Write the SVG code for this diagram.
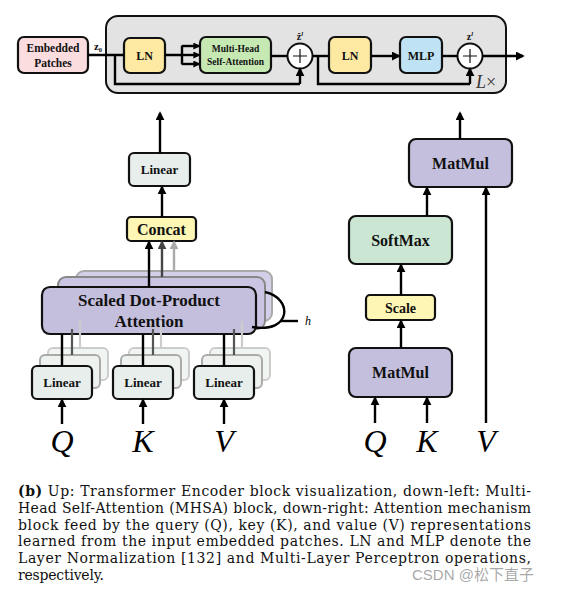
<svg xmlns="http://www.w3.org/2000/svg" width="562" height="592" viewBox="0 0 562 592">
<defs>
<marker id="ah" viewBox="0 0 10 10" refX="8" refY="5" markerWidth="9" markerHeight="9" markerUnits="userSpaceOnUse" orient="auto"><path d="M0,0 L10,5 L0,10 z" fill="#000"/></marker>
<marker id="ahs" viewBox="0 0 10 10" refX="8" refY="5" markerWidth="7" markerHeight="7" markerUnits="userSpaceOnUse" orient="auto"><path d="M0,0 L10,5 L0,10 z" fill="#000"/></marker>
<marker id="ahg" viewBox="0 0 10 10" refX="8" refY="5" markerWidth="9" markerHeight="9" markerUnits="userSpaceOnUse" orient="auto"><path d="M0,0 L10,5 L0,10 z" fill="#444"/></marker>
<marker id="ahl" viewBox="0 0 10 10" refX="8" refY="5" markerWidth="9" markerHeight="9" markerUnits="userSpaceOnUse" orient="auto"><path d="M0,0 L10,5 L0,10 z" fill="#aaa"/></marker>
</defs>
<style>
.b{font-family:"Liberation Serif","Times New Roman",serif;font-weight:bold;text-anchor:middle;fill:#111}
.m{font-family:"Liberation Serif","Times New Roman",serif;font-style:italic;text-anchor:middle;fill:#000}
.box{stroke:#111;stroke-width:2.2}
.ln{stroke:#000;stroke-width:2.4;fill:none}
.arr{stroke:#000;stroke-width:2.4;fill:none;marker-end:url(#ah)}
.cap{font-family:"DejaVu Serif","Liberation Serif",serif;font-size:14px;fill:#111}
</style>

<!-- Encoder block -->
<g id="encoder">
<rect x="106" y="16" width="400" height="77" rx="12" fill="#e3e3e3" stroke="#111" stroke-width="2"/>
<text x="476" y="88" font-family="Liberation Serif, serif" font-size="18" fill="#333"><tspan font-style="italic">L</tspan>×</text>
</g>
<g id="embedded">
<rect class="box" x="18" y="37" width="70" height="36" rx="6" fill="#fbdde0"/>
<text class="b" x="53" y="52" font-size="11.5">Embedded</text>
<text class="b" x="53" y="67" font-size="11.5">Patches</text>
</g>
<text class="b" x="98" y="50" font-size="11">z<tspan font-size="6.5" dy="2">0</tspan></text>
<g id="ln1">
<rect class="box" x="124" y="38" width="41" height="35" rx="6" fill="#fde9a2"/>
<text class="b" x="144.5" y="60" font-size="12">LN</text>
</g>
<g id="mhsa">
<rect class="box" x="200" y="37" width="71" height="36" rx="6" fill="#c6e8b3"/>
<text class="b" x="235.5" y="52" font-size="9.5">Multi-Head</text>
<text class="b" x="235.5" y="65" font-size="9.5">Self-Attention</text>
</g>
<g id="add1">
<circle cx="300" cy="56" r="12.5" fill="#fff" stroke="#111" stroke-width="2"/>
<path d="M293,56 H307 M300,49 V63" stroke="#111" stroke-width="1.2"/>
<text class="b" x="300" y="40" font-size="10">ẑ<tspan font-size="6.5" font-style="italic" dy="-4">l</tspan></text>
</g>
<g id="ln2">
<rect class="box" x="329" y="37" width="42" height="36" rx="6" fill="#fde9a2"/>
<text class="b" x="350" y="60" font-size="12">LN</text>
</g>
<g id="mlp">
<rect class="box" x="400" y="37" width="42" height="36" rx="6" fill="#bfe3f5"/>
<text class="b" x="421" y="60" font-size="12">MLP</text>
</g>
<g id="add2">
<circle cx="470" cy="56" r="12.5" fill="#fff" stroke="#111" stroke-width="2"/>
<path d="M463,56 H477 M470,49 V63" stroke="#111" stroke-width="1.2"/>
<text class="b" x="470" y="40" font-size="10">z<tspan font-size="6.5" font-style="italic" dy="-4">l</tspan></text>
</g>

<!-- MHSA block -->
<g id="linear-out">
<rect class="box" x="129" y="153" width="61" height="33" rx="5" fill="#e8eeeb"/>
<text class="b" x="159.5" y="174" font-size="13">Linear</text>
</g>
<g id="concat">
<rect class="box" x="127" y="217" width="69" height="24" rx="4" fill="#fdf6b4"/>
<text class="b" x="161.5" y="235" font-size="16">Concat</text>
</g>
<g id="sdpa">
<rect x="76" y="271" width="196" height="50" rx="8" fill="#d3cfe8" stroke="#aaa" stroke-width="2"/>
<rect x="58" y="277" width="207" height="52" rx="8" fill="#cbc5e3" stroke="#888" stroke-width="2"/>
<rect class="box" x="42" y="287" width="214" height="47" rx="8" fill="#c5bfde" stroke-width="2.5"/>
<text class="b" x="149" y="306" font-size="17">Scaled Dot-Product</text>
<text class="b" x="149" y="327" font-size="17">Attention</text>
<path d="M265,292 C293,298 292,334 252,327" class="ln"/>
<path d="M280,321 H298" class="ln" stroke-width="2"/>
<text x="305" y="325" font-family="Liberation Serif, serif" font-style="italic" font-size="12">h</text>
</g>
<g id="linear-q">
<rect x="48" y="348" width="60" height="32" rx="5" fill="#f1f5f2" stroke="#ccc" stroke-width="2"/>
<rect x="40" y="355" width="60" height="33" rx="5" fill="#edf2ee" stroke="#aaa" stroke-width="2"/>
<rect class="box" x="32" y="366" width="60" height="33" rx="5" fill="#e8eeeb"/>
<text class="b" x="62" y="387" font-size="13">Linear</text>
</g>
<g id="linear-k">
<rect x="129" y="348" width="60" height="32" rx="5" fill="#f1f5f2" stroke="#ccc" stroke-width="2"/>
<rect x="121" y="355" width="60" height="33" rx="5" fill="#edf2ee" stroke="#aaa" stroke-width="2"/>
<rect class="box" x="113" y="366" width="60" height="33" rx="5" fill="#e8eeeb"/>
<text class="b" x="143" y="387" font-size="13">Linear</text>
</g>
<g id="linear-v">
<rect x="210" y="348" width="60" height="32" rx="5" fill="#f1f5f2" stroke="#ccc" stroke-width="2"/>
<rect x="202" y="355" width="60" height="33" rx="5" fill="#edf2ee" stroke="#aaa" stroke-width="2"/>
<rect class="box" x="194" y="366" width="60" height="33" rx="5" fill="#e8eeeb"/>
<text class="b" x="224" y="387" font-size="13">Linear</text>
</g>
<g id="labels-left">
<text class="m" x="62" y="452" font-size="32">Q</text>
<text class="m" x="143" y="452" font-size="32">K</text>
<text class="m" x="224" y="452" font-size="32">V</text>
</g>

<!-- Attention block -->
<g id="matmul-top">
<rect class="box" x="409" y="139" width="103" height="48" rx="7" fill="#c5bfde" stroke-width="2.5"/>
<text class="b" x="460.5" y="169" font-size="16">MatMul</text>
</g>
<g id="softmax">
<rect class="box" x="349" y="216" width="103" height="48" rx="7" fill="#cbe7d4" stroke-width="2.5"/>
<text class="b" x="400.5" y="246" font-size="16">SoftMax</text>
</g>
<g id="scale">
<rect class="box" x="366" y="295" width="69" height="25" rx="4" fill="#fdf6b4"/>
<text class="b" x="400.5" y="313" font-size="14">Scale</text>
</g>
<g id="matmul-bottom">
<rect class="box" x="349" y="348" width="103" height="49" rx="7" fill="#c5bfde" stroke-width="2.5"/>
<text class="b" x="400.5" y="378" font-size="16">MatMul</text>
</g>
<g id="labels-right">
<text class="m" x="375" y="452" font-size="32">Q</text>
<text class="m" x="427" y="452" font-size="32">K</text>
<text class="m" x="486" y="452" font-size="32">V</text>
</g>

<g id="connectors">
<path class="ln" d="M88,55 H124"/>
<path class="ln" d="M115,55 V84 H300"/>
<path class="arr" d="M300,84 V69"/>
<path class="ln" d="M165,55 H182 M182,45.5 V64.5" stroke-width="1.8"/>
<path class="ln" d="M182,46 H199" stroke-width="1.6" marker-end="url(#ahs)"/>
<path class="ln" d="M182,55 H199" stroke-width="1.6" marker-end="url(#ahs)"/>
<path class="ln" d="M182,64 H199" stroke-width="1.6" marker-end="url(#ahs)"/>
<path class="ln" d="M271,56 H287.5"/>
<path class="ln" d="M312.5,56 H329"/>
<path class="ln" d="M318,56 V84 H470"/>
<path class="arr" d="M470,84 V69"/>
<path class="arr" d="M371,56 H399"/>
<path class="ln" d="M442,56 H457.5"/>
<path class="arr" d="M482.5,56 H523"/>

<path class="arr" d="M160,153 V113"/>
<path class="arr" d="M162,217 V187"/>
<path class="arr" d="M149,287 V242"/>
<path d="M162,277 V242" stroke="#444" stroke-width="2.4" marker-end="url(#ahg)"/>
<path d="M174,271 V242" stroke="#aaa" stroke-width="2.4" marker-end="url(#ahl)"/>

<path class="ln" d="M62,334 V366 M143,334 V366 M224,334 V366"/>
<path d="M72,329 V355 M153,329 V355 M234,329 V355" stroke="#555" stroke-width="2.2"/>
<path d="M80,321 V348 M161,321 V348 M242,321 V348" stroke="#ccc" stroke-width="2.2"/>
<path class="arr" d="M62,424 V400"/>
<path class="arr" d="M143,424 V400"/>
<path class="arr" d="M224,424 V400"/>

<path class="arr" d="M460,139 V113"/>
<path class="arr" d="M427,216 V188"/>
<path class="arr" d="M486,423 V188"/>
<path class="arr" d="M401,295 V265"/>
<path class="arr" d="M401,348 V321"/>
<path class="arr" d="M375,423 V398"/>
<path class="arr" d="M427,423 V398"/>
</g>

<!-- Caption -->
<g id="caption">
<text class="cap" x="18" y="496" textLength="513" lengthAdjust="spacing"><tspan font-weight="bold">(b)</tspan> Up: Transformer Encoder block visualization, down-left: Multi-</text>
<text class="cap" x="18" y="512.8" textLength="513" lengthAdjust="spacing">Head Self-Attention (MHSA) block, down-right: Attention mechanism</text>
<text class="cap" x="18" y="529.6" textLength="513" lengthAdjust="spacing">block feed by the query (Q), key (K), and value (V) representations</text>
<text class="cap" x="18" y="546.4" textLength="513" lengthAdjust="spacing">learned from the input embedded patches. LN and MLP denote the</text>
<text class="cap" x="18" y="563.2" textLength="513" lengthAdjust="spacing">Layer Normalization [132] and Multi-Layer Perceptron operations,</text>
<text class="cap" x="18" y="580" textLength="86" lengthAdjust="spacing">respectively.</text>
<text x="412" y="580" font-family="Liberation Sans, Noto Sans CJK SC, sans-serif" font-size="15" fill="#999" fill-opacity="0.85">CSDN @松下直子</text>
</g>
</svg>
